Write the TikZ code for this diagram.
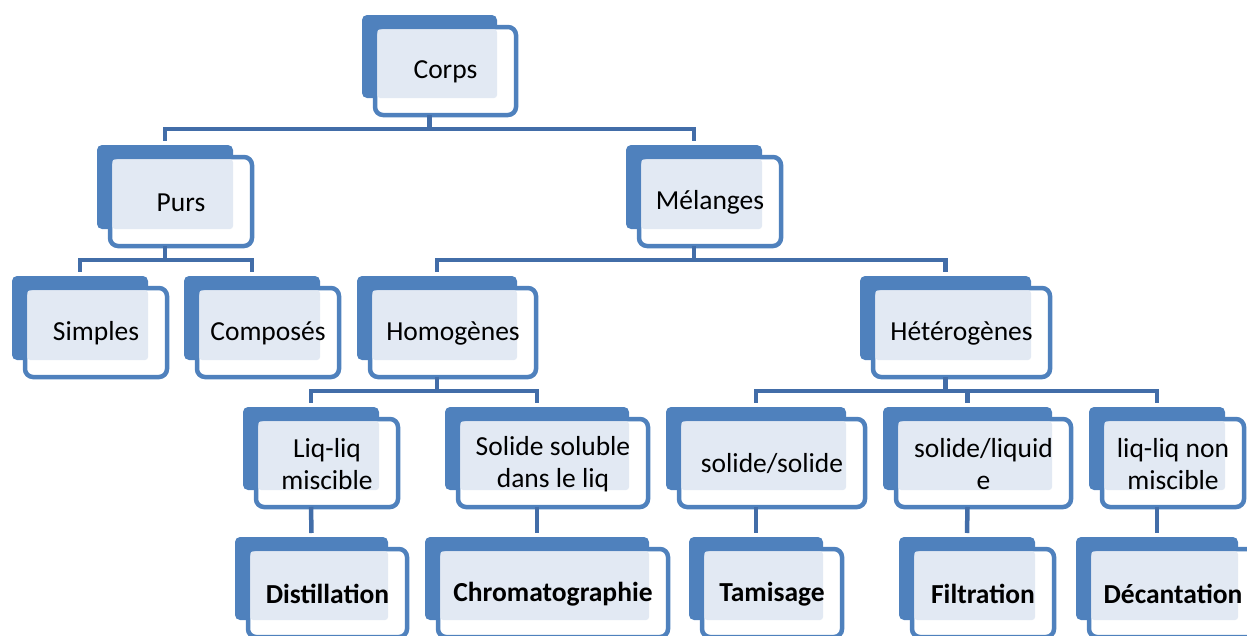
\documentclass[tikz,border=0pt]{standalone}
\usepackage{fontspec}
\setmainfont{Carlito}
\usepackage{tikz}
\usetikzlibrary{positioning, calc}

\definecolor{boxblue}{RGB}{79,129,189}
\definecolor{linkblue}{RGB}{66,109,168}
\definecolor{dotgray}{RGB}{226,233,243}

% back plate, front card, shaded text area, then the text node
\newcommand{\orgbox}[6]{%
  \fill[backbox] (#2,#3) rectangle (#4,#5);
  \draw[frontbox] (#2+13,#3+12) rectangle (#4+19,#5+17);
  \fill[dotarea] (#2+15.25,#3+14.25) rectangle (#4,#5);
  \node[boxtext] (#1) at ({(#2+#4)/2+16},{(#3+#5)/2+15.5}) {#6};
  \coordinate (#1-in) at ({(#2+#4)/2},#3-4);
  \coordinate (#1-out) at ({(#2+#4)/2},#5+17);
}

\begin{document}
\begin{tikzpicture}[
    x=1pt, y=-1pt,
    backbox/.style={fill=boxblue, rounded corners=5pt},
    frontbox/.style={draw=boxblue, line width=4.5pt, fill=white, rounded corners=8pt},
    dotarea/.style={fill=dotgray, rounded corners=3pt},
    boxtext/.style={align=center, inner sep=0pt, text=black, font=\fontsize{27.5}{32}\selectfont},
    link/.style={draw=linkblue, line width=4.5pt}
]
\useasboundingbox (0,0) rectangle (1247,635);

\orgbox{corps}{362}{15}{497}{98}{Corps}
\orgbox{purs}{97}{145}{233}{229}{Purs}
\orgbox{melanges}{626}{145}{762}{229}{Mélanges}
\orgbox{simples}{12}{276}{148}{360}{Simples}
\orgbox{composes}{184}{276}{320}{360}{Composés}
\orgbox{homogenes}{357}{276}{517}{360}{Homogènes}
\orgbox{heterogenes}{860}{276}{1031}{360}{Hétérogènes}
\orgbox{liqmisc}{243}{407}{379}{490}{Liq-liq\\miscible}
\orgbox{solsoluble}{445}{407}{629}{490}{Solide soluble\\dans le liq}
\orgbox{solsol}{666}{407}{846}{490}{solide/solide}
\orgbox{solliq}{883}{407}{1052}{490}{solide/liquid\\e}
\orgbox{liqnonmisc}{1089}{407}{1225}{490}{liq-liq non\\miscible}
\orgbox{distillation}{235}{537}{388}{620}{\textbf{Distillation}}
\orgbox{chromato}{425}{537}{649}{620}{\textbf{Chromatographie}}
\orgbox{tamisage}{689}{537}{823}{620}{\textbf{Tamisage}}
\orgbox{filtration}{899}{537}{1035}{620}{\textbf{Filtration}}
\orgbox{decantation}{1076}{537}{1238}{620}{\textbf{Décantation}}

% connectors
\draw[link] (corps-out) -- ++(0,14) -| (purs-in);
\draw[link] (corps-out) -- ++(0,14) -| (melanges-in);
\draw[link] (purs-out) -- ++(0,14) -| (simples-in);
\draw[link] (purs-out) -- ++(0,14) -| (composes-in);
\draw[link] (melanges-out) -- ++(0,14) -| (homogenes-in);
\draw[link] (melanges-out) -- ++(0,14) -| (heterogenes-in);
\draw[link] (homogenes-out) -- ++(0,14) -| (liqmisc-in);
\draw[link] (homogenes-out) -- ++(0,14) -| (solsoluble-in);
\draw[link] (heterogenes-out) -- ++(0,14) -| (solsol-in);
\draw[link] (heterogenes-out) -- ++(0,14) -| (solliq-in);
\draw[link] (heterogenes-out) -- ++(0,14) -| (liqnonmisc-in);
\draw[link] (liqmisc-out) -- (distillation-in);
\draw[link] (solsoluble-out) -- (chromato-in);
\draw[link] (solsol-out) -- (tamisage-in);
\draw[link] (solliq-out) -- (filtration-in);
\draw[link] (liqnonmisc-out) -- (decantation-in);

\end{tikzpicture}
\end{document}
